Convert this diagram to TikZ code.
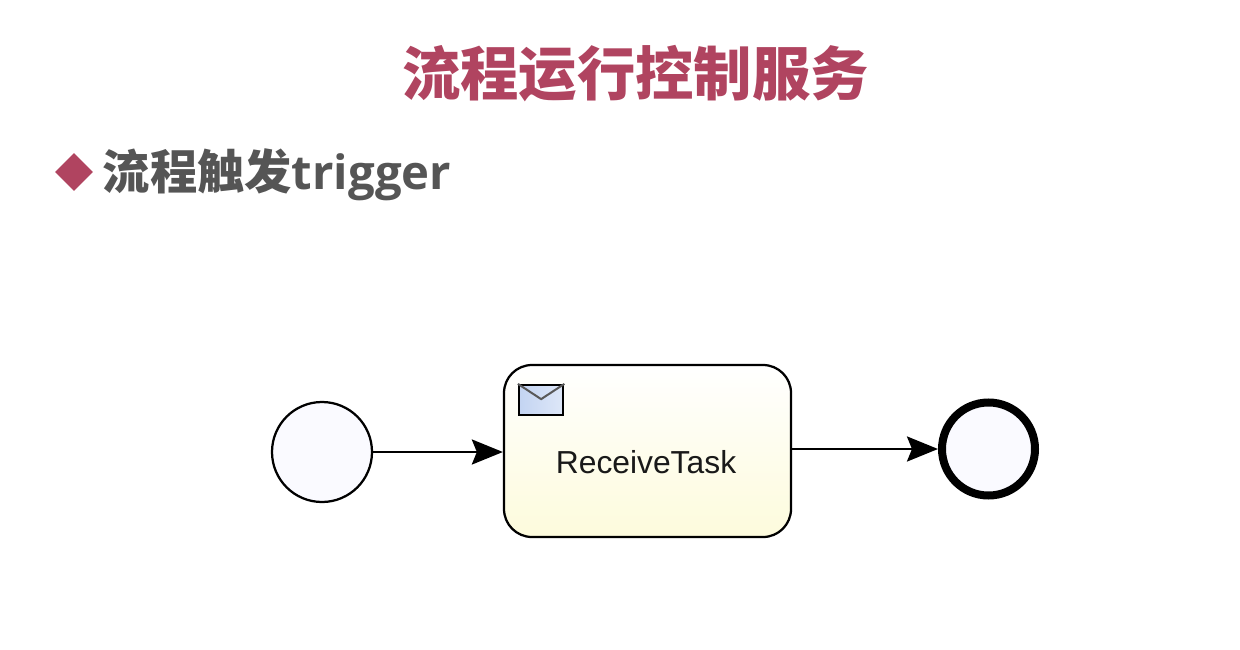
\documentclass[tikz,border=0pt]{standalone}
\usepackage{fontspec}
\setmainfont{Liberation Sans}
\newfontfamily\cjk{Noto Sans CJK SC}
\newfontfamily\latinbold{Open Sans}
\usetikzlibrary{shapes.geometric,arrows.meta,positioning,calc}

\definecolor{titlered}{HTML}{B04460}
\definecolor{subgray}{HTML}{555555}
\definecolor{eventfill}{HTML}{FAFAFF}
\definecolor{taskyellow}{HTML}{FDFBDC}
\definecolor{envblue}{HTML}{C3D4F2}

\tikzset{
  event/.style={circle, draw=black, fill=eventfill, minimum size=2cm, inner sep=0pt},
  flowline/.style={-{Stealth[length=0.62cm, width=0.5cm, inset=0.1cm]}, line width=0.055cm, black},
}

\begin{document}
\begin{tikzpicture}

\useasboundingbox (0, 0) rectangle (24.8, 12.98);

% Heading
\node[text=titlered, font=\cjk\bfseries\fontsize{33.2}{40}\selectfont] (title) at (12.71, 11.5) {流程运行控制服务};

% Bullet and sub heading
\node[diamond, fill=titlered, minimum size=0.76cm, inner sep=0pt] (bullet) at (1.48, 9.54) {};
\node[text=subgray, anchor=west, inner sep=0pt] (sub) at (2.05, 9.49)
  {\fontsize{26.9}{32}\selectfont\cjk\bfseries 流程触发\latinbold\bfseries trigger};

% Events and task
\node[event, line width=0.045cm] (start) at (6.44, 3.94) {};
\node[draw=black, line width=0.045cm, rounded corners=0.56cm, minimum width=5.74cm, minimum height=3.44cm,
  top color=white, bottom color=taskyellow, inner sep=0pt] (task) at (12.95, 3.96) {};
\node[font=\fontsize{18.1}{21}\selectfont, text=black!90] (tasklabel) at (12.92, 3.74) {ReceiveTask};
\node[event, line width=0.16cm, minimum size=1.86cm] (end) at (19.77, 4.0) {};

% Envelope marker
\node[draw=black, line width=0.05cm, left color=envblue, right color=envblue!55, minimum width=0.88cm, minimum height=0.6cm,
  inner sep=0pt, below right=0.4cm and 0.3cm of task.north west] (envelope) {};
\draw[line width=0.04cm, black!65] (envelope.north west) -- ($(envelope.center)+(0, 0.02)$) -- (envelope.north east);

% Flows
\draw[flowline] (start.east) -- (start.east -| task.west);
\draw[flowline] (task.east |- end.west) -- (end.west);

\end{tikzpicture}
\end{document}
